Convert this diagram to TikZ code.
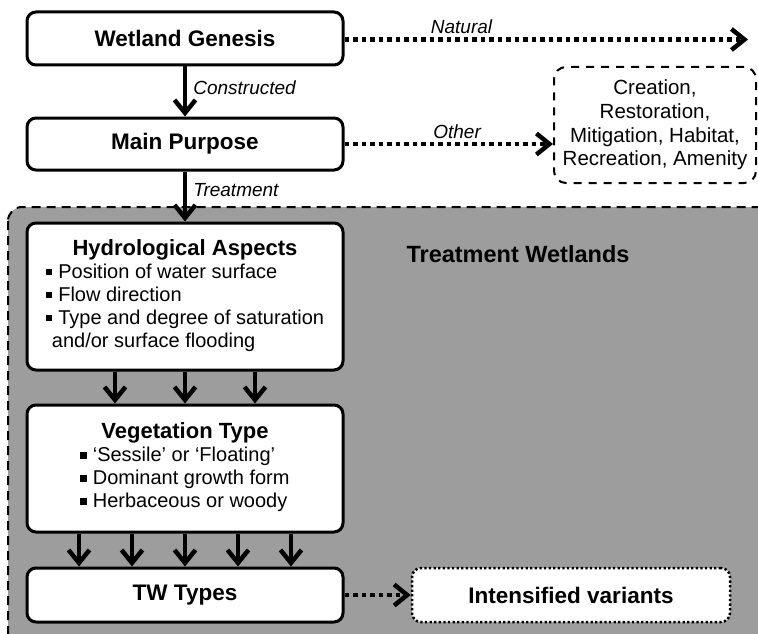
\documentclass[tikz,border=0pt]{standalone}
\usepackage{fontspec}
\setmainfont{Liberation Sans}
\usetikzlibrary{arrows.meta}
\definecolor{wetgray}{RGB}{156,157,156}
\newcommand{\sqb}{\rule[0.14em]{0.32em}{0.32em}\hspace{0.3em}}

\tikzset{
  box/.style={draw, line width=3pt, rounded corners=9pt, fill=white,
    minimum width=316pt, font=\fontsize{22.5}{25}\selectfont\bfseries},
  listbox/.style={box, font=\fontsize{20}{23}\selectfont},
  flow/.style={line width=4pt, -{Straight Barb[length=13pt,width=21pt,line width=4.5pt]}},
  dots/.style={flow, line width=4.5pt, dash pattern=on 4.5pt off 4pt},
  lab/.style={font=\fontsize{19}{22}\selectfont\itshape}
}

\begin{document}
\begin{tikzpicture}[x=1pt,y=-1pt]
\useasboundingbox (0,0) rectangle (758,634);
\clip (0,0) rectangle (758,634);
% treatment wetlands area
\draw [fill=wetgray, line width=2pt, dash pattern=on 9pt off 6pt, rounded corners=14pt]
  (8,207) rectangle (800,670);
\node [font=\fontsize{23.5}{27}\selectfont\bfseries] (twlabel) at (518,254) {Treatment Wetlands};
% boxes
\node [box, minimum height=53pt] (genesis) at (185,38.5) {Wetland Genesis};
\node [box, minimum height=52pt] (purpose) at (185,144) {Main Purpose};
\node [listbox, minimum height=147pt] (hydro) at (185,296.5) {%
  \begin{tabular}{@{}c@{}}
  {\fontsize{22}{23}\selectfont\bfseries Hydrological Aspects}\\
  \begin{tabular}[t]{@{}l@{}}
  \sqb Position of water surface\\
  \sqb Flow direction\\
  \sqb Type and degree of saturation\\
  \hspace{6pt}and/or surface flooding
  \end{tabular}
  \end{tabular}};
\node [listbox, minimum height=127pt] (veg) at (185,468.5) {%
  \begin{tabular}{@{}c@{}}
  {\fontsize{22}{23}\selectfont\bfseries Vegetation Type}\\
  \begin{tabular}[t]{@{}l@{}}
  \sqb `Sessile' or `Floating'\\
  \sqb Dominant growth form\\
  \sqb Herbaceous or woody
  \end{tabular}
  \end{tabular}};
\node [box, minimum height=54pt] (tw) at (185,595) {TW Types};
\node [box, minimum width=318pt, minimum height=54pt, line width=2.5pt,
  dash pattern=on 2.3pt off 2.3pt] (intens) at (571,595) {Intensified variants};
\node [draw, fill=white, line width=2pt, dash pattern=on 8pt off 7pt, rounded corners=12pt,
  minimum width=202pt, minimum height=116pt, align=center,
  font=\fontsize{20.5}{23.7}\selectfont] (other) at (655,125)
  {Creation,\\Restoration,\\Mitigation, Habitat,\\Recreation, Amenity};
\coordinate (natend) at (748,39.5);
% connectors
\draw [flow] (genesis.south) -- node [lab, right, pos=0.42, xshift=3pt] {Constructed} (purpose.north);
\draw [flow] (purpose.south) -- node [lab, right, pos=0.38, xshift=3pt] {Treatment} (hydro.north);
\draw [dots] (genesis.east |- natend) -- node [lab, above, pos=0.29] {Natural} (natend);
\draw [dots] (purpose.east) -- node [lab, above, pos=0.54] {Other} (purpose.east -| other.west);
\foreach \dx in {-70,0,70}
  \draw [flow] ([xshift=\dx pt]hydro.south) -- ([xshift=\dx pt]veg.north);
\foreach \dx in {-106,-53,0,53,106}
  \draw [flow] ([xshift=\dx pt]veg.south) -- ([xshift=\dx pt]tw.north);
\draw [dots] (tw.east) -- (intens.west);
\end{tikzpicture}
\end{document}
